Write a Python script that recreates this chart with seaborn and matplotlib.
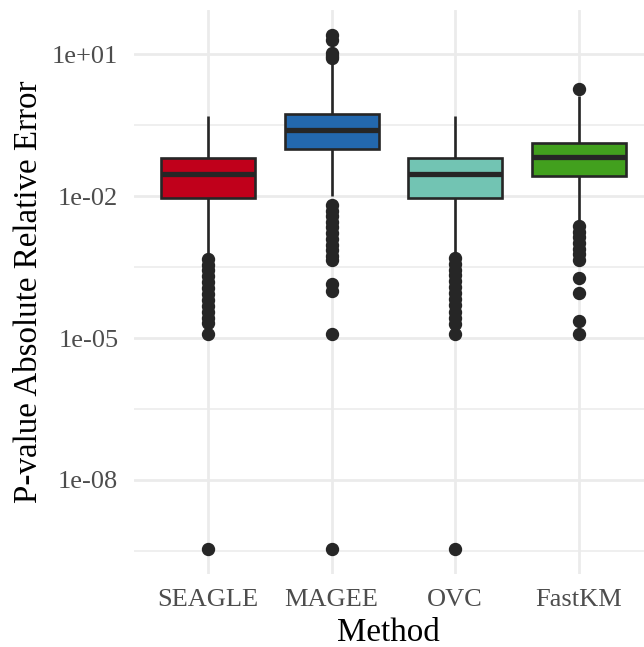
import numpy as np
import pandas as pd
import seaborn as sns
import matplotlib.pyplot as plt

# Methods and box colours
methods = ["SEAGLE", "MAGEE", "OVC", "FastKM"]
colors = ["#C0001B", "#2368AE", "#72C4B3", "#42A01E"]

# Box statistics (absolute relative error, log scale)
q1 = [9.3e-3, 9.8e-2, 9.3e-3, 2.75e-2]
median = [2.9e-2, 2.57e-1, 2.9e-2, 6.8e-2]
q3 = [6.5e-2, 5.55e-1, 6.5e-2, 1.35e-1]
whisker_lo = [6.3e-4, 1.0e-2, 6.3e-4, 3.2e-3]
whisker_hi = [4.9e-1, 6.3, 4.9e-1, 1.32]

# Outlying points per method
outliers_seagle = [4.8e-4, 3.6e-4, 2.75e-4, 2.1e-4, 1.55e-4, 1.15e-4, 8.5e-5, 6.3e-5,
                   4.7e-5, 3.5e-5, 2.6e-5, 2.1e-5, 1.23e-5, 3.4e-10]
outliers_magee = [26.0, 20.0, 10.7, 9.5, 8.5,
                  6.6e-3, 5.0e-3, 3.8e-3, 2.9e-3, 2.2e-3, 1.66e-3, 1.26e-3, 9.5e-4,
                  7.2e-4, 5.5e-4, 4.4e-4, 1.4e-4, 9.8e-5, 1.23e-5, 3.4e-10]
outliers_ovc = [4.9e-4, 3.7e-4, 2.8e-4, 2.15e-4, 1.6e-4, 1.2e-4, 9.0e-5, 6.6e-5,
                4.9e-5, 3.6e-5, 2.7e-5, 2.0e-5, 1.23e-5, 3.4e-10]
outliers_fastkm = [1.86, 2.35e-3, 1.78e-3, 1.35e-3, 1.02e-3, 7.8e-4, 5.9e-4, 4.5e-4,
                   1.9e-4, 9.1e-5, 2.3e-5, 1.23e-5]
outliers = [outliers_seagle, outliers_magee, outliers_ovc, outliers_fastkm]

# Build a long table; the box values are repeated so seaborn reproduces the quartiles
rows = []
for i, m in enumerate(methods):
    vals = outliers[i] + [whisker_lo[i], whisker_hi[i]]
    vals += [q1[i]] * 60 + [median[i]] * 60 + [q3[i]] * 60
    rows += [(m, v) for v in vals]
df = pd.DataFrame(rows, columns=["Method", "err"])

sns.set_theme(style="whitegrid")
plt.rcParams["font.family"] = ["Liberation Serif", "DejaVu Serif"]

fig = plt.figure(figsize=(6.44, 6.47), dpi=100)
ax = fig.add_axes([0.2075, 0.1128, 0.7925, 0.8717])

line_col = "#262626"
sns.boxplot(data=df, x="Method", y="err", hue="Method", order=methods,
            palette=colors, saturation=1, legend=False, log_scale=True, width=0.76,
            linecolor=line_col, linewidth=1.9, whis=1.5, ax=ax,
            medianprops=dict(linewidth=3.8, color=line_col),
            capprops=dict(linewidth=0),
            flierprops=dict(marker="o", markersize=8.6, markerfacecolor=line_col,
                            markeredgecolor=line_col))

ax.set_xlim(-0.6, 3.526)
ax.set_ylim(10 ** -9.99, 10 ** 1.94)

major = [1e-8, 1e-5, 1e-2, 1e1]
ax.set_yticks(major)
ax.set_yticklabels(["1e-08", "1e-05", "1e-02", "1e+01"])
ax.set_yticks([10 ** -9.5, 10 ** -6.5, 10 ** -3.5, 10 ** -0.5], minor=True)
ax.yaxis.set_minor_formatter(plt.NullFormatter())

ax.grid(True, which="major", color="#EBEBEB", linewidth=2.0)
ax.grid(True, which="minor", axis="y", color="#EBEBEB", linewidth=1.1)
ax.set_axisbelow(True)
for s in ax.spines.values():
    s.set_visible(False)

ax.tick_params(axis="both", which="both", length=0, labelsize=19, labelcolor="#4D4D4D")
ax.tick_params(axis="x", pad=10.5)
ax.tick_params(axis="y", pad=11)

ax.set_xlabel("Method", fontsize=23.8, color="black", labelpad=5)
ax.set_ylabel("P-value Absolute Relative Error", fontsize=23.8, color="black", labelpad=6)

fig.savefig("out.png", dpi=100)
